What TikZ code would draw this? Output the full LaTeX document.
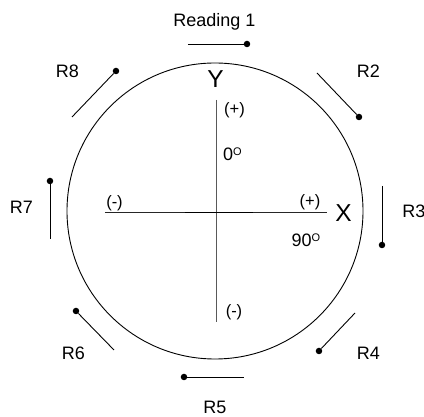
\documentclass[tikz,border=0pt]{standalone}
\usepackage{fontspec}
\setmainfont{Liberation Sans}

\newcommand{\degsign}{\raisebox{5pt}{\fontsize{11}{11}\selectfont O}}

\begin{document}
\begin{tikzpicture}[x=1pt, y=1pt,
  rimline/.style={black, line width=0.9pt},
  axisline/.style={black!65, line width=0.9pt},
  hubline/.style={black, line width=0.9pt},
  readline/.style={black, line width=0.9pt},
  readdot/.style={circle, fill=black, inner sep=0pt, minimum size=6.5pt},
  readlabel/.style={font=\fontsize{18}{18}\selectfont, anchor=base},
  axisname/.style={font=\fontsize{24.5}{24.5}\selectfont, anchor=base},
  signlabel/.style={font=\fontsize{16.5}{16.5}\selectfont, anchor=base},
  anglelabel/.style={font=\fontsize{18}{18}\selectfont, anchor=base}
]
  %% --- geometria (unita': pt, origine al centro del cerchio) ---
  \def\rad{148}
  \useasboundingbox (-215,-206) rectangle (209,211);

  %% --- cerchio ---
  \coordinate (ctr) at (0,0);
  \draw[rimline] (ctr) circle[radius=\rad];

  %% --- assi ---
  \coordinate (ytop) at (1,111);
  \coordinate (ybot) at (1,-111);
  \coordinate (xleft) at (-110,-1);
  \coordinate (xright) at (112,-1);
  \coordinate (hubl) at (-30,-1);
  \coordinate (hubr) at (38,-1);
  \draw[axisline] (ytop) -- (ybot);
  \draw[axisline, black!85] (xleft) -- (xright);
  \draw[hubline] (hubl) -- (hubr);

  \node[axisname] (yname) at (0.5,123) {Y};
  \node[axisname] (xname) at (128.5,-11) {X};
  \node[signlabel] (ypos) at (19.5,96.3) {(+)};
  \node[signlabel] (yneg) at (19,-105.7) {(-)};
  \node[signlabel] (xneg) at (-100.5,3.3) {(-)};
  \node[signlabel] (xpos) at (95,4.3) {(+)};
  \node[anglelabel] (zerodeg) at (17.5,50) {0\degsign};
  \node[anglelabel] (ninetydeg) at (91,-36) {90\degsign};

  %% --- letture: segmento tangente, punto nel verso orario ---
  \foreach \sx/\sy/\ex/\ey/\lx/\ly/\txt [count=\i] in {
    -27/167/32/167/-0.5/184/Reading 1,
    102/138/144/94/153.5/133/R2,
    167/25/167/-34/199/-7/R3,
    140/-102/104/-140/153.5/-149/R4,
    29/-166/-31/-166/0/-203/R5,
    -101/-139/-139/-100/-141.5/-149/R6,
    -165/-28/-165/30/-193.5/-3/R7,
    -143/94/-99/140/-147.5/133/R8
  } {
    \coordinate (rs\i) at (\sx,\sy);
    \node[readdot] (rd\i) at (\ex,\ey) {};
    \draw[readline] (rs\i) -- (rd\i);
    \node[readlabel] (rl\i) at (\lx,\ly) {\txt};
  }
\end{tikzpicture}
\end{document}
